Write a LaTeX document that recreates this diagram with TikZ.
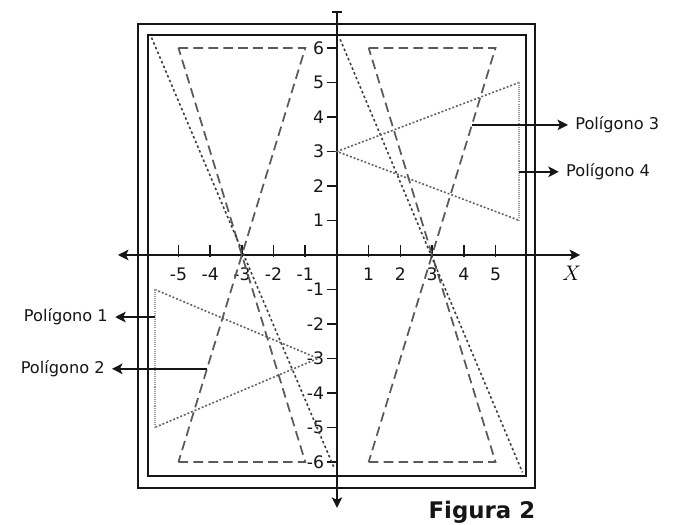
\documentclass[tikz,border=0pt]{standalone}
\usepackage{fontspec}
\setmainfont{DejaVu Sans}
\usetikzlibrary{arrows.meta}
\definecolor{ink}{HTML}{161616}
\definecolor{dsh}{HTML}{5A5A5A}
\definecolor{dtt}{HTML}{3C3C3C}
\definecolor{pale}{HTML}{626262}
\definecolor{paler}{HTML}{9A9A9A}
\tikzset{
  frame/.style={draw=ink,line width=1pt},
  axis/.style={draw=ink,line width=1pt},
  axtick/.style={draw=ink,line width=0.9pt},
  num/.style={font=\fontsize{9.8}{11}\selectfont,color=ink,inner sep=0.5pt},
  poly/.style={draw=dsh,line width=1pt,dash pattern=on 5.5pt off 3pt},
  diag/.style={draw=dtt,line width=0.9pt,dash pattern=on 1.4pt off 1.5pt},
  tri/.style={draw=pale,line width=0.9pt,dash pattern=on 1.1pt off 1.1pt},
  side/.style={draw=paler,line width=1pt,dash pattern=on 0.6pt off 0.6pt},
  arr/.style={-{Stealth[length=2.1mm,width=2.1mm,inset=0.5mm]},line width=1pt,color=ink,shorten >=4pt},
  lbl/.style={font=\fontsize{9.2}{10}\selectfont,color=ink,inner sep=0pt}}
\begin{document}
\begin{tikzpicture}[x=0.634cm,y=0.69cm]
\useasboundingbox (-10.63,-7.80) rectangle (10.915,7.39);
\draw[frame] (-6.28,-6.75) rectangle (6.25,6.7);
\draw[frame] (-5.96,-6.4) rectangle (5.96,6.38);
\coordinate (xl) at (-6.91,0);
\coordinate (xr) at (7.67,0);
\coordinate (yt) at (0,7.07);
\coordinate (yb) at (0,-7.33);
\draw[axis,{Stealth[length=2.1mm,width=2.1mm,inset=0.5mm]}-{Stealth[length=2.1mm,width=2.1mm,inset=0.5mm]}] (xl) -- (xr);
\draw[axis,{Bar[width=2mm]}-{Stealth[length=2.1mm,width=2.1mm,inset=0.5mm]}] (yt) -- (yb);
\node[font=\fontsize{13}{15}\selectfont] (xlab) at (7.41,-0.52) {$X$};
\foreach \x in {-5,...,-1,1,2,...,5} {
  \draw[axtick] (\x,-0.05) -- (\x,0.28);
  \node[num] (xn\x) at (\x,-0.55) {\x};
}
\foreach \y in {-6,...,-1,1,2,...,6} {
  \draw[axtick] (-0.32,\y) -- (0.03,\y);
  \node[num,anchor=east] (yn\y) at (-0.37,\y) {\y};
}
\draw[poly] (-5,6) -- (-1,6) -- (-3,0) -- cycle;
\draw[poly] (1,6) -- (5,6) -- (3,0) -- cycle;
\draw[poly] (-5,-6) -- (-1,-6) -- (-3,0) -- cycle;
\draw[poly] (1,-6) -- (5,-6) -- (3,0) -- cycle;
\draw[diag] (-5.85,6.3) -- (-0.1,-6.15);
\draw[diag] (0.1,6.25) -- (5.85,-6.3);
\draw[tri] (5.75,5) -- (0,3) -- (5.75,1);
\draw[side] (5.75,5) -- (5.75,1);
\draw[tri] (-5.75,-1) -- (-0.6,-3) -- (-5.75,-5);
\draw[side] (-5.75,-1) -- (-5.75,-5);
\coordinate (a1) at (-5.75,-1.8);
\coordinate (a2) at (-4.1,-3.3);
\coordinate (a3) at (4.26,3.77);
\coordinate (a4) at (5.75,2.41);
\node[lbl,anchor=east] (l1) at (-7.22,-1.8) {Polígono 1};
\node[lbl,anchor=east] (l2) at (-7.32,-3.3) {Polígono 2};
\node[lbl,anchor=west] (l3) at (7.51,3.77) {Polígono 3};
\node[lbl,anchor=west] (l4) at (7.22,2.41) {Polígono 4};
\draw[arr] (a1) -- (l1.east);
\draw[arr] (a2) -- (l2.east);
\draw[arr] (a3) -- (l3.west);
\draw[arr] (a4) -- (l4.west);
\node[font=\bfseries\fontsize{13}{15}\selectfont,color=ink] (fig) at (4.57,-7.45) {Figura 2};
\end{tikzpicture}
\end{document}
